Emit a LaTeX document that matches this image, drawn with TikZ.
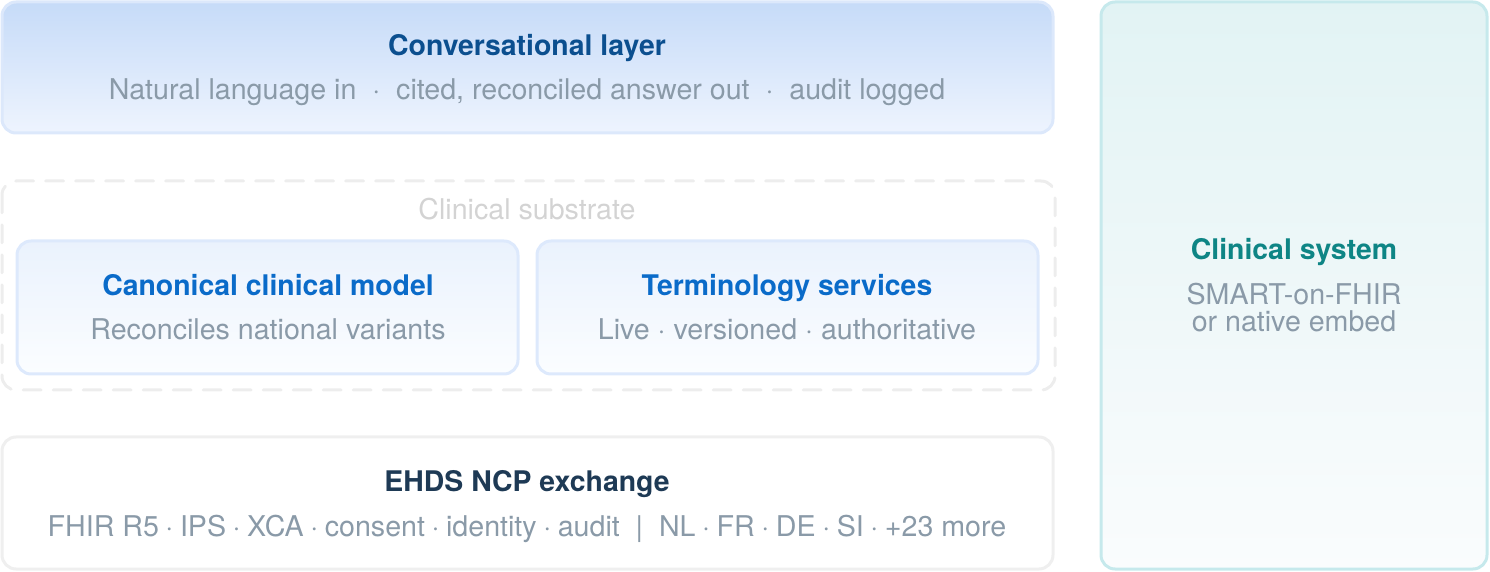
\documentclass[tikz,border=0pt]{standalone}
\usepackage{fontspec}
\setmainfont{TeX Gyre Heros}
\usepackage{tikz}
\definecolor{convline}{HTML}{DCE8FB}
\definecolor{convtop}{HTML}{C6DBF8}
\definecolor{convbot}{HTML}{EEF4FE}
\definecolor{convtext}{HTML}{0B4F8F}
\definecolor{subline}{HTML}{EDEDED}
\definecolor{subtext}{HTML}{D3D3D3}
\definecolor{partline}{HTML}{DDE9FC}
\definecolor{parttop}{HTML}{EAF2FD}
\definecolor{partbot}{HTML}{FBFDFF}
\definecolor{parttext}{HTML}{0A6BC9}
\definecolor{ncpline}{HTML}{EFEFEF}
\definecolor{ncptext}{HTML}{1E3A55}
\definecolor{sysline}{HTML}{C6E9EC}
\definecolor{systop}{HTML}{E2F3F4}
\definecolor{sysbot}{HTML}{FAFCFD}
\definecolor{systext}{HTML}{0E8585}
\definecolor{muted}{HTML}{8A9AA8}
\newcommand\sdot{\hspace{0.23em}\textperiodcentered\hspace{0.23em}}
\tikzset{
  layer/.style={rounded corners=7pt, line width=1.5pt},
  ttl/.style={font=\fontsize{14.2}{16}\selectfont\bfseries, inner sep=0pt, anchor=base},
  sub/.style={font=\fontsize{14.3}{16}\selectfont, text=muted, inner sep=0pt, anchor=base},
}

\begin{document}
\begin{tikzpicture}[x=0.5pt, y=-0.5pt]
  \useasboundingbox (0,0) rectangle (1490,572);

  % conversational layer
  \coordinate (convA) at (2,2);
  \coordinate (convB) at (1053,133);
  \draw[layer, draw=convline, top color=convtop, bottom color=convbot] (convA) rectangle (convB);
  \node[ttl, text=convtext] (convT) at (527,56) {Conversational layer};
  \node[sub] (convS) at (527,100) {Natural language in \ \textperiodcentered\ \ cited, reconciled answer out \ \textperiodcentered\ \ audit logged};

  % clinical substrate
  \coordinate (subA) at (2,181);
  \coordinate (subB) at (1055,390);
  \draw[layer, draw=subline, dash pattern=on 9pt off 6pt, line cap=round] (subA) rectangle (subB);
  \node[sub, text=subtext] (subT) at (527,220) {Clinical substrate};

  \coordinate (canA) at (17,241);
  \coordinate (canB) at (518,374);
  \draw[layer, draw=partline, top color=parttop, bottom color=partbot] (canA) rectangle (canB);
  \node[ttl, text=parttext] (canT) at (268,296) {Canonical clinical model};
  \node[sub] (canS) at (268,340) {Reconciles national variants};

  \coordinate (termA) at (537,241);
  \coordinate (termB) at (1038,374);
  \draw[layer, draw=partline, top color=parttop, bottom color=partbot] (termA) rectangle (termB);
  \node[ttl, text=parttext] (termT) at (787,296) {Terminology services};
  \node[sub] (termS) at (787,340) {Live \textperiodcentered\ versioned \textperiodcentered\ authoritative};

  % exchange
  \coordinate (ncpA) at (2,437);
  \coordinate (ncpB) at (1053,569);
  \draw[layer, draw=ncpline, fill=white] (ncpA) rectangle (ncpB);
  \node[ttl, text=ncptext] (ncpT) at (527,492) {EHDS NCP exchange};
  \node[sub] (ncpS) at (527,536) {FHIR R5\sdot IPS\sdot XCA\sdot consent\sdot identity\sdot audit \ \textbar\ \ NL\sdot FR\sdot DE\sdot SI\sdot +23 more};

  % clinical system
  \coordinate (sysA) at (1101,2);
  \coordinate (sysB) at (1487,569);
  \draw[layer, draw=sysline, top color=systop, bottom color=sysbot] (sysA) rectangle (sysB);
  \node[ttl, text=systext] (sysT) at (1294,260) {Clinical system};
  \node[sub] (sysS1) at (1294,305) {SMART-on-FHIR};
  \node[sub] (sysS2) at (1294,332) {or native embed};
\end{tikzpicture}
\end{document}
